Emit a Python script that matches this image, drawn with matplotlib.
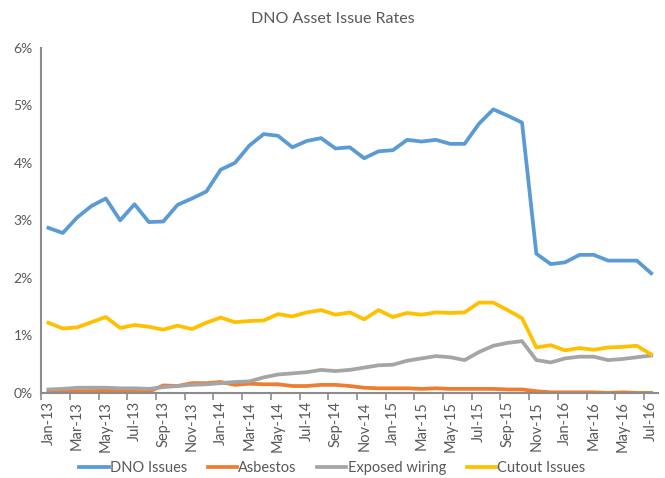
import matplotlib.pyplot as plt
import numpy as np

# monthly categories Jan-13 .. Jul-16
months = ['Jan', 'Feb', 'Mar', 'Apr', 'May', 'Jun', 'Jul', 'Aug', 'Sep', 'Oct', 'Nov', 'Dec']
labels = [f'{m}-{y}' for y in ['13', '14', '15', '16'] for m in months][:43]

# rates in %
dno_issues = [2.87, 2.78, 3.05, 3.25, 3.38, 3.00, 3.28, 2.97, 2.98, 3.27, 3.38, 3.50,
              3.88, 4.00, 4.30, 4.50, 4.47, 4.27, 4.38, 4.43, 4.25, 4.27, 4.08, 4.20,
              4.22, 4.40, 4.37, 4.40, 4.33, 4.33, 4.68, 4.93, 4.82, 4.70, 2.42, 2.24,
              2.27, 2.40, 2.40, 2.30, 2.30, 2.30, 2.08]
asbestos = [0.02, 0.02, 0.03, 0.03, 0.04, 0.03, 0.03, 0.02, 0.13, 0.12, 0.17, 0.17,
            0.19, 0.14, 0.16, 0.15, 0.15, 0.12, 0.12, 0.14, 0.14, 0.12, 0.09, 0.08,
            0.08, 0.08, 0.07, 0.08, 0.07, 0.07, 0.07, 0.07, 0.06, 0.06, 0.03, 0.01,
            0.01, 0.01, 0.01, 0.00, 0.01, 0.00, 0.00]
exposed_wiring = [0.06, 0.07, 0.09, 0.09, 0.09, 0.08, 0.08, 0.07, 0.10, 0.12, 0.14, 0.15,
                  0.17, 0.19, 0.20, 0.27, 0.32, 0.34, 0.36, 0.40, 0.38, 0.40, 0.44, 0.48,
                  0.49, 0.56, 0.60, 0.64, 0.62, 0.57, 0.71, 0.82, 0.87, 0.90, 0.57, 0.53,
                  0.60, 0.63, 0.63, 0.57, 0.59, 0.62, 0.65]
cutout_issues = [1.22, 1.12, 1.14, 1.23, 1.32, 1.13, 1.18, 1.15, 1.10, 1.17, 1.11, 1.22,
                 1.31, 1.23, 1.25, 1.26, 1.37, 1.33, 1.40, 1.44, 1.36, 1.40, 1.28, 1.44,
                 1.32, 1.39, 1.36, 1.40, 1.39, 1.40, 1.57, 1.57, 1.44, 1.30, 0.79, 0.83,
                 0.74, 0.78, 0.75, 0.79, 0.80, 0.82, 0.67]

series = [('DNO Issues', dno_issues, '#5B9BD5'),
          ('Asbestos', asbestos, '#ED7D31'),
          ('Exposed wiring', exposed_wiring, '#A5A5A5'),
          ('Cutout Issues', cutout_issues, '#FFC000')]

plt.rcParams['font.family'] = ['Lato', 'DejaVu Sans']
text_col = '#595959'

fig = plt.figure(figsize=(6.65, 4.78), dpi=100)
ax = fig.add_axes([0.062, 0.178, 0.928, 0.722])

x = np.arange(len(labels))
for name, vals, col in series:
    ax.plot(x, vals, color=col, lw=2.7, label=name, solid_joinstyle='round')

ax.set_xlim(-0.5, len(labels) - 0.5)
ax.set_ylim(0, 6)
ax.set_yticks(range(0, 7))
ax.set_yticklabels([f'{v}%' for v in range(0, 7)])
ax.tick_params(axis='y', length=0, labelsize=10, labelcolor=text_col, pad=6)

# labels every 2 months, tick marks at category boundaries
ax.set_xticks(x[::2])
ax.set_xticklabels(labels[::2], rotation=90)
ax.set_xticks(np.arange(-0.5, len(labels), 2), minor=True)
ax.tick_params(axis='x', which='major', length=0, labelsize=10.5, labelcolor=text_col, pad=6)
ax.tick_params(axis='x', which='minor', length=5, width=1.2, color='#8c8c8c')

for s in ['top', 'right']:
    ax.spines[s].set_visible(False)
for s in ['left', 'bottom']:
    ax.spines[s].set_color('#8c8c8c')
    ax.spines[s].set_linewidth(1.5)

fig.suptitle('DNO Asset Issue Rates', x=0.5, y=0.975, fontsize=11.5, color=text_col)

fig.legend(loc='lower center', ncol=4, frameon=False, fontsize=10.5,
           bbox_to_anchor=(0.5, -0.022), handlelength=2.0, handletextpad=0.1,
           columnspacing=1.4, labelcolor=text_col)

fig.savefig('out.png', dpi=100)
